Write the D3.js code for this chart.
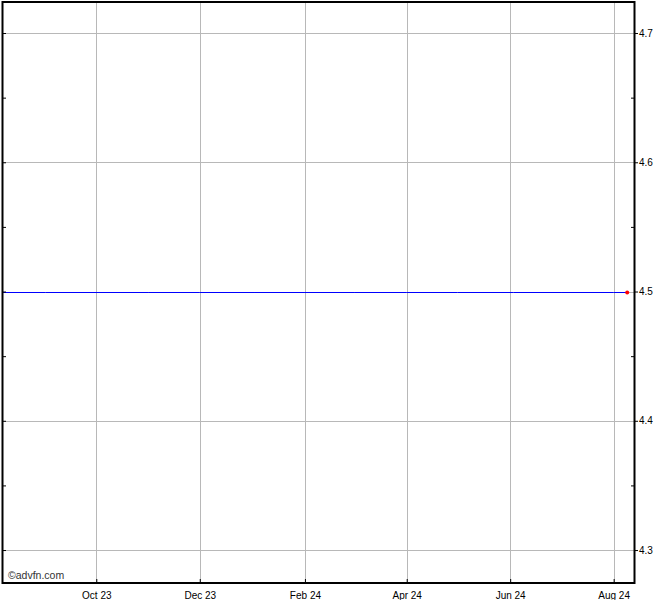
<!DOCTYPE html>
<html>
<head>
<meta charset="utf-8">
<script src="https://cdn.jsdelivr.net/npm/d3@7"></script>
<style>
  html, body { margin: 0; padding: 0; background: #fff; }
  svg { display: block; font-family: Arial, "Liberation Sans", sans-serif; }
</style>
</head>
<body>
<svg id="chart" width="670" height="600"></svg>
<script>
// ---- data ----
const dates = ["2023-08-07", "2023-09-01", "2023-10-02", "2023-11-01", "2023-12-01",
               "2024-01-02", "2024-02-01", "2024-03-01", "2024-04-01", "2024-05-01",
               "2024-06-03", "2024-07-01", "2024-08-01", "2024-08-09"];
const prices = [4.5, 4.5, 4.5, 4.5, 4.5, 4.5, 4.5, 4.5, 4.5, 4.5, 4.5, 4.5, 4.5, 4.5];
const xTickDates = ["2023-10-01", "2023-12-01", "2024-02-01", "2024-04-01", "2024-06-01", "2024-08-01"];
const xTickLabels = ["Oct 23", "Dec 23", "Feb 24", "Apr 24", "Jun 24", "Aug 24"];
const yTicks = [4.3, 4.4, 4.5, 4.6, 4.7];
const yMinorTicks = [4.25, 4.35, 4.45, 4.55, 4.65];
const watermark = "\u00A9advfn.com";

const parse = d3.timeParse("%Y-%m-%d");
const data = dates.map((d, i) => ({ date: parse(d), value: prices[i] }));

const L = 3, R = 634, T = 2, B = 583;
const svg = d3.select("#chart");

const x = d3.scaleTime()
  .domain([parse("2023-08-07"), parse("2024-08-13")])
  .range([L, R]);
const y = d3.scaleLinear()
  .domain([4.2745, 4.724])
  .range([B, T]);

// grid
const grid = svg.append("g");
grid.selectAll("line.gy").data(yTicks).join("line")
  .attr("x1", L).attr("x2", R)
  .attr("y1", d => Math.round(y(d)) + 0.5).attr("y2", d => Math.round(y(d)) + 0.5)
  .attr("stroke", "#b8b8b8").attr("stroke-width", 1);
grid.selectAll("line.gx").data(xTickDates).join("line")
  .attr("x1", d => Math.round(x(parse(d))) + 0.5).attr("x2", d => Math.round(x(parse(d))) + 0.5)
  .attr("y1", T).attr("y2", B)
  .attr("stroke", "#b8b8b8").attr("stroke-width", 1);

// watermark
svg.append("text").attr("x", 8).attr("y", 579)
  .attr("font-size", 10.5).attr("fill", "#333")
  .text(watermark);

// line
svg.append("path").datum(data)
  .attr("fill", "none").attr("stroke", "#0000ff").attr("stroke-width", 1)
  .attr("d", d3.line().x(d => x(d.date)).y(d => Math.round(y(d.value)) + 0.5));

// last point
const last = data[data.length - 1];
svg.append("circle")
  .attr("cx", x(last.date)).attr("cy", Math.round(y(last.value)) + 0.5)
  .attr("r", 2).attr("fill", "#ff0000");

// frame
svg.append("rect").attr("x", L - 0.5).attr("y", T).attr("width", R - L + 1).attr("height", B - T)
  .attr("fill", "none").attr("stroke", "#000").attr("stroke-width", 2);

// right axis
const yAxis = d3.axisRight(y).tickValues(yTicks).tickSize(4).tickPadding(1)
  .tickFormat(d3.format(".1f"));
const ya = svg.append("g").attr("transform", `translate(${R},0)`).call(yAxis);
ya.select(".domain").remove();
ya.selectAll("text").attr("font-size", 10).attr("font-family", "Arial, 'Liberation Sans', sans-serif").attr("fill", "#000");
ya.selectAll("line").attr("stroke", "#000");

// right minor ticks (inside)
svg.append("g").attr("transform", `translate(${R},0)`)
  .call(d3.axisLeft(y).tickValues(yMinorTicks).tickSize(3).tickFormat(""))
  .select(".domain").remove();

// left ticks (inside)
const lt = svg.append("g").attr("transform", `translate(${L},0)`)
  .call(d3.axisRight(y).tickValues(yTicks.concat(yMinorTicks)).tickSize(3).tickFormat(""));
lt.select(".domain").remove();

// bottom axis
const xAxis = d3.axisBottom(x).tickValues(xTickDates.map(parse))
  .tickSize(3).tickPadding(6)
  .tickFormat((d, i) => xTickLabels[i]);
const xa = svg.append("g").attr("transform", `translate(0,${B})`).call(xAxis);
xa.select(".domain").remove();
xa.selectAll("line").attr("y1", -4).attr("y2", 0);
xa.selectAll("text").attr("font-size", 10).attr("font-family", "Arial, 'Liberation Sans', sans-serif").attr("fill", "#000");
</script>
</body>
</html>
